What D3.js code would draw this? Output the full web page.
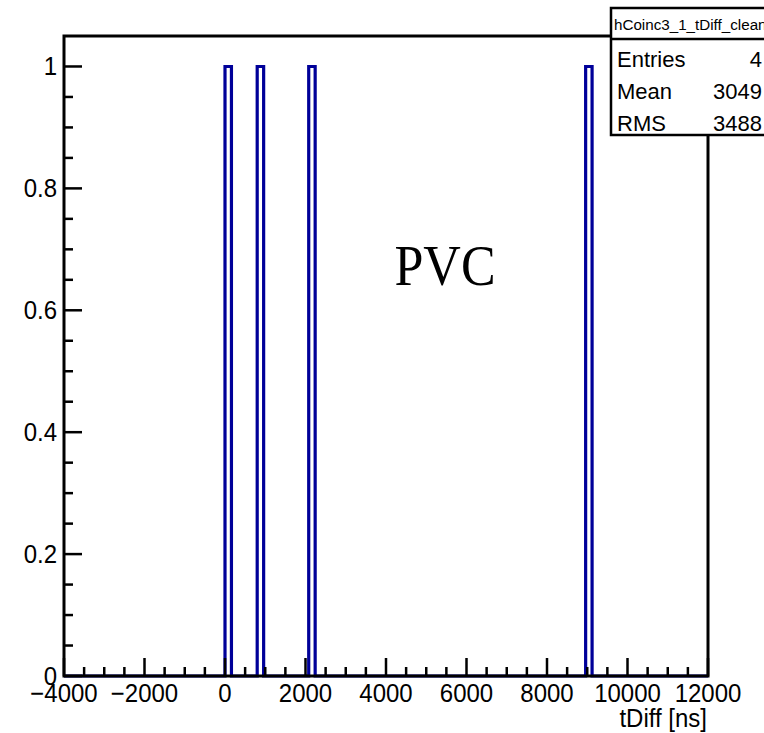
<!DOCTYPE html>
<html>
<head>
<meta charset="utf-8">
<script src="https://cdn.jsdelivr.net/npm/d3@7"></script>
<style>
  html, body { margin: 0; padding: 0; background: #fff; }
  svg { display: block; }
</style>
</head>
<body>
<svg id="chart" width="764" height="733"></svg>
<script>
// ---- data ----
const histName = "hCoinc3_1_tDiff_clean";
const xRange = [-4000, 12000];
const nBins = 100;
const filledBinCenters = [80, 880, 2160, 9040];
const filledBinCounts = [1, 1, 1, 1];
const yMax = 1.05;
const xMajorTicks = [-4000, -2000, 0, 2000, 4000, 6000, 8000, 10000, 12000];
const yMajorTicks = [0, 0.2, 0.4, 0.6, 0.8, 1];
const statsLabels = ["Entries", "Mean", "RMS"];
const statsValues = ["4", "3049", "3488"];
const xTitle = "tDiff [ns]";
const annotation = "PVC";

// ---- layout ----
const svg = d3.select("#chart");
const L = 64, R = 708, T = 36, B = 676;
const x = d3.scaleLinear().domain(xRange).range([L, R]);
const y = d3.scaleLinear().domain([0, yMax]).range([B, T]);

// build bins
const bw = (xRange[1] - xRange[0]) / nBins;
const counts = new Array(nBins).fill(0);
filledBinCenters.forEach((c, i) => {
  const k = Math.floor((c - xRange[0]) / bw);
  if (k >= 0 && k < nBins) counts[k] += filledBinCounts[i];
});

// histogram step outline
let d = `M${x(xRange[0])},${y(0)}`;
for (let i = 0; i < nBins; i++) {
  const x0 = xRange[0] + i * bw, x1 = x0 + bw;
  d += `L${x(x0)},${y(counts[i])}L${x(x1)},${y(counts[i])}`;
}
d += `L${x(xRange[1])},${y(0)}`;
svg.append("path").attr("d", d)
  .attr("fill", "none").attr("stroke", "#000099")
  .attr("stroke-width", 3.2).attr("stroke-linejoin", "miter");

// frame
const axisColor = "#000";
svg.append("rect").attr("x", L).attr("y", T).attr("width", R - L).attr("height", B - T)
  .attr("fill", "none").attr("stroke", axisColor).attr("stroke-width", 3);

const font = "'Liberation Sans', Arial, Helvetica, sans-serif";
const stretch = (yy) => `translate(0,${yy}) scale(1,1.06) translate(0,${-yy})`;

// x ticks
const xMinor = d3.range(xRange[0], xRange[1] + 1, 500);
svg.append("g").selectAll("line").data(xMinor).join("line")
  .attr("x1", v => x(v)).attr("x2", v => x(v))
  .attr("y1", B).attr("y2", v => B - (v % 2000 === 0 ? 18 : 9))
  .attr("stroke", axisColor).attr("stroke-width", 2.5);
svg.append("g").selectAll("text").data(xMajorTicks).join("text")
  .attr("x", v => x(v)).attr("y", 702)
  .attr("transform", stretch(702))
  .attr("text-anchor", "middle")
  .attr("font-family", font).attr("font-size", 24)
  .text(v => v < 0 ? "\u2212" + Math.abs(v) : String(v));

// y ticks
const yMinor = d3.range(0, 1.0001, 0.05);
svg.append("g").selectAll("line").data(yMinor).join("line")
  .attr("x1", L).attr("x2", (v, i) => L + (i % 4 === 0 ? 18 : 9))
  .attr("y1", v => y(v)).attr("y2", v => y(v))
  .attr("stroke", axisColor).attr("stroke-width", 2.5);
svg.append("g").selectAll("text").data(yMajorTicks).join("text")
  .attr("x", 57).attr("y", v => y(v) + 9)
  .attr("transform", v => stretch(y(v) + 9))
  .attr("text-anchor", "end")
  .attr("font-family", font).attr("font-size", 24)
  .text(v => String(v));

// x title
svg.append("text").attr("x", 707).attr("y", 727).attr("text-anchor", "end")
  .attr("transform", stretch(727))
  .attr("font-family", font).attr("font-size", 24).text(xTitle);

// annotation
svg.append("text").attr("x", 445).attr("y", 285).attr("text-anchor", "middle")
  .attr("font-family", "'Liberation Serif', 'Times New Roman', serif")
  .attr("font-size", 52)
  .attr("transform", "translate(0,285) scale(1,1.1) translate(0,-285)")
  .text(annotation);

// stats box
const sx = 611, sy = 8, sw = 170, sh = 127;
svg.append("rect").attr("x", sx).attr("y", sy).attr("width", sw).attr("height", sh)
  .attr("fill", "#fff").attr("stroke", "#000").attr("stroke-width", 2.5);
svg.append("line").attr("x1", sx).attr("x2", sx + sw).attr("y1", 39).attr("y2", 39)
  .attr("stroke", "#000").attr("stroke-width", 2.5);
svg.append("text").attr("x", 614).attr("y", 30)
  .attr("font-family", font).attr("font-size", 15.2).text(histName);
const rowY = [67, 99, 131];
statsLabels.forEach((lab, i) => {
  svg.append("text").attr("x", 617).attr("y", rowY[i])
    .attr("font-family", font).attr("font-size", 22).text(lab);
  svg.append("text").attr("x", 762).attr("y", rowY[i]).attr("text-anchor", "end")
    .attr("font-family", font).attr("font-size", 22).text(statsValues[i]);
});
</script>
</body>
</html>
